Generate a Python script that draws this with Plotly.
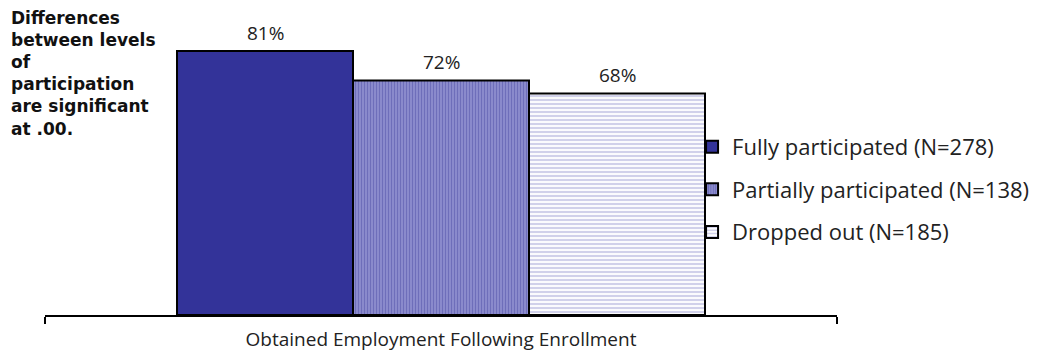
import plotly.graph_objects as go

category = "Obtained Employment Following Enrollment"
series = ["Fully participated (N=278)", "Partially participated (N=138)", "Dropped out (N=185)"]
values = [81, 72, 68]
labels = ["81%", "72%", "68%"]
note = "Differences<br>between levels<br>of<br>participation<br>are significant<br>at .00."

positions = [0, 1, 2]
fills = [
    dict(color="#333399"),
    dict(color="#6c6cbc", pattern=dict(shape="|", fgcolor="#4848a2", bgcolor="#9494d2", size=3, solidity=0.5)),
    dict(color="#ffffff", pattern=dict(shape="-", fgcolor="#a4a4d6", bgcolor="#ffffff", size=4, solidity=0.55)),
]

FONT = "Open Sans"
fig = go.Figure()
for i, (name, v) in enumerate(zip(series, values)):
    m = dict(fills[i])
    m["line"] = dict(color="#000000", width=2)
    fig.add_trace(go.Bar(
        x=[positions[i]], y=[v], width=1, name=name, marker=m,
        legendgroup=name, showlegend=True, hoverinfo="skip",
    ))
    fig.add_annotation(x=positions[i], y=v, text=labels[i], showarrow=False,
                       yanchor="bottom", yshift=3,
                       font=dict(family=FONT, size=19, color="#222222"))

fig.add_annotation(xref="paper", yref="paper", x=-0.045, y=1.013, xanchor="left", yanchor="top",
                   text=note, showarrow=False, align="left",
                   font=dict(family="DejaVu Sans", size=17, color="#111111", weight="bold"))

fig.update_layout(
    width=1041, height=358,
    margin=dict(l=45, r=204, t=10, b=43, autoexpand=False),
    paper_bgcolor="white", plot_bgcolor="white",
    barmode="overlay",
    showlegend=True,
    legend=dict(x=0.817, y=0.62, xanchor="left", yanchor="top",
                font=dict(family=FONT, size=22, color="#222222"),
                tracegroupgap=11, bgcolor="rgba(0,0,0,0)"),
    xaxis=dict(range=[-1.25, 3.25], showgrid=False, zeroline=False,
               showline=True, linecolor="#000000", linewidth=2,
               tickvals=[-1.25, 3.25], ticks="outside", ticklen=7, tickwidth=2,
               tickcolor="#000000", showticklabels=False,
               title=dict(text=category, font=dict(family=FONT, size=19, color="#222222"), standoff=10)),
    yaxis=dict(range=[0, 93.6], visible=False),
)

fig.write_html("out.html")
